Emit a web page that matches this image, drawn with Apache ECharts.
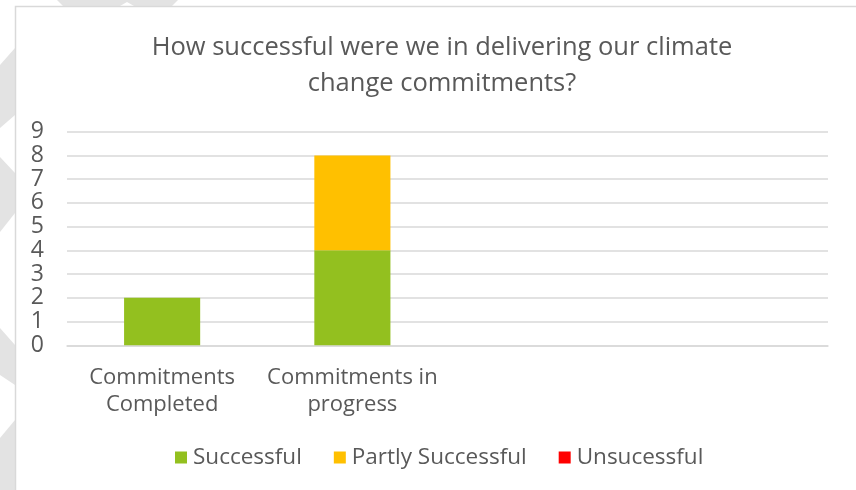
<!DOCTYPE html>
<html>
<head>
<meta charset="utf-8">
<script src="https://cdn.jsdelivr.net/npm/echarts@6/dist/echarts.min.js"></script>
<style>
  html, body { margin: 0; padding: 0; background: #ffffff; }
  #chart { width: 856px; height: 490px; }
</style>
</head>
<body>
<div id="chart"></div>
<script>
// Commitment status by stage
const categories = ['Commitments\nCompleted', 'Commitments in\nprogress', '', ''];
const successful = [2, 4, 0, 0];
const partlySuccessful = [0, 4, 0, 0];
const unsuccessful = [0, 0, 0, 0];
const yTicks = [0, 1, 2, 3, 4, 5, 6, 7, 8, 9];

const textColor = '#595959';
const gridColor = '#d9d9d9';
const fontMain = '"Open Sans", "Noto Sans", sans-serif';

const chart = echarts.init(document.getElementById('chart'), null, { renderer: 'canvas' });

// Decorative chevrons along the left edge and the frame around the chart
const decor = [
  { type: 'polygon', shape: { points: [[15, 48], [15, 115], [0, 128], [0, 65]] }, style: { fill: '#e3e3e3' } },
  { type: 'polygon', shape: { points: [[0, 157], [15, 173], [15, 213], [0, 232]] }, style: { fill: '#e3e3e3' } },
  { type: 'polygon', shape: { points: [[0, 328], [15, 345], [15, 385], [0, 375]] }, style: { fill: '#e3e3e3' } },
  { type: 'polygon', shape: { points: [[15, 420], [0, 438], [0, 490], [15, 490]] }, style: { fill: '#e3e3e3' } },
  { type: 'polygon', shape: { points: [[57, 0], [178, 0], [172, 6], [63, 6]] }, style: { fill: '#e3e3e3' } },
  { type: 'polygon', shape: { points: [[120, 6], [127, 2], [134, 6]] }, style: { fill: '#ffffff' } },
  { type: 'rect', shape: { x: 15.5, y: 6.5, width: 900, height: 600 },
    style: { fill: 'none', stroke: gridColor, lineWidth: 1.5 } }
];

chart.setOption({
  animation: false,
  backgroundColor: '#ffffff',
  textStyle: { fontFamily: fontMain, color: textColor },
  graphic: decor,
  title: {
    text: 'How successful were we in delivering our climate\nchange commitments?',
    left: 437,
    top: 25,
    textAlign: 'center',
    textStyle: { fontFamily: fontMain, fontSize: 25.5, fontWeight: 'normal', color: textColor, lineHeight: 36 }
  },
  legend: {
    data: ['Successful', 'Partly Successful', 'Unsucessful'],
    left: 175,
    top: 446,
    padding: 0,
    itemWidth: 12,
    itemHeight: 12,
    itemGap: 32,
    icon: 'rect',
    textStyle: { fontFamily: fontMain, fontSize: 22.5, color: textColor, padding: [0, 0, 0, 1] }
  },
  grid: { left: 67, right: 28, top: 131.7, bottom: 144.7, containLabel: false },
  xAxis: {
    type: 'category',
    data: categories,
    axisTick: { show: false },
    axisLine: { show: true, lineStyle: { color: gridColor, width: 1.5 } },
    axisLabel: { interval: 0, margin: 19, fontSize: 22, lineHeight: 27, color: textColor, fontFamily: fontMain }
  },
  yAxis: {
    type: 'value',
    min: yTicks[0],
    max: yTicks[yTicks.length - 1],
    interval: 1,
    axisLine: { show: false },
    axisTick: { show: false },
    splitLine: { lineStyle: { color: gridColor, width: 1.5 } },
    axisLabel: { margin: 23, fontSize: 23, color: textColor, fontFamily: fontMain }
  },
  series: [
    { name: 'Successful', type: 'bar', stack: 'total', barWidth: '40%', data: successful, itemStyle: { color: '#93c01f' } },
    { name: 'Partly Successful', type: 'bar', stack: 'total', data: partlySuccessful, itemStyle: { color: '#ffc000' } },
    { name: 'Unsucessful', type: 'bar', stack: 'total', data: unsuccessful, itemStyle: { color: '#ff0000' } }
  ]
});
</script>
</body>
</html>
